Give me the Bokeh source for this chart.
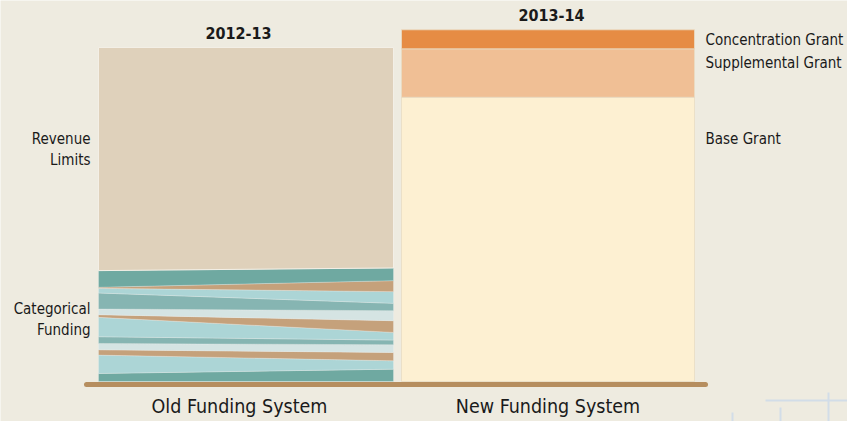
from bokeh.plotting import figure
from bokeh.models import Range1d, ColumnDataSource
from bokeh.core.properties import value
from bokeh.embed import file_html
from bokeh.resources import INLINE

# ---------------- data (arbitrary funding units; 2012-13 total = 100) ----------------
categorical_colors = ["#6fa9a1", "#acd5d6", "#c5a17b", "#d5e4e3", "#86b5b2", "#acd5d6",
                      "#c5a17b", "#d5e4e3", "#86b5b2", "#acd5d6", "#c5a17b", "#6fa9a1"]
# categorical programs, bottom -> top, thickness at left edge and right edge of the 2012-13 bar
categorical_left = [2.4, 5.5, 1.6, 1.9, 2.0, 5.8, 0.8, 1.7, 4.8, 1.4, 0.3, 5.0]
categorical_right = [3.7, 2.5, 2.5, 2.3, 1.4, 2.3, 3.5, 3.0, 2.2, 3.5, 3.3, 3.8]
old_total = 100.0

new_segments = ["Base Grant", "Supplemental Grant", "Concentration Grant"]
new_values = [85.1, 14.5, 5.7]
new_colors = ["#fdf0d2", "#f0bf95", "#e68c44"]

years = ["2012-13", "2013-14"]
systems = ["Old Funding System", "New Funding System"]

# ---------------- layout helpers ----------------
W, H = 847, 421
K = 3.34          # pixels per unit
BASE_PX = 381     # page y of zero line
TXT_SHIFT = 7     # text baseline correction
def X(px):
    return px
def Y(py):
    return (BASE_PX - py) / K
def TY(py):
    return Y(py - TXT_SHIFT)

BG = "#eeebe0"
FONT = value("DejaVu Sans Condensed")

p = figure(width=W, height=H, output_backend="svg", toolbar_location=None,
           min_border=0, x_range=Range1d(0, W),
           y_range=Range1d(Y(H), Y(0)))
p.axis.visible = False
p.grid.visible = False
p.outline_line_color = None
p.background_fill_color = BG
p.border_fill_color = BG

# faint background grid fragment (bottom right)
p.multi_line(xs=[[X(765), X(847)], [X(828), X(828)], [X(780), X(780)], [X(732), X(732)]],
             ys=[[Y(400), Y(400)], [Y(392), Y(421)], [Y(407), Y(421)], [Y(412), Y(421)]],
             line_color="#d2dde8", line_width=2)

# ---------------- old system bar ----------------
L0, L1 = X(98), X(393)
xs, ys = [], []
cl = cr = 0.0
for l, r in zip(categorical_left, categorical_right):
    xs.append([L0, L1, L1, L0])
    ys.append([cl, cr, cr + r, cl + l])
    cl += l
    cr += r
src = ColumnDataSource(dict(xs=xs, ys=ys, color=categorical_colors))
p.patches("xs", "ys", source=src, fill_color="color", line_color="#eef3f0",
          line_alpha=0.5, line_width=0.6)
# revenue limits on top of categorical funding
p.patch([L0, L1, L1, L0], [cl, cr, old_total, old_total],
        fill_color="#dfd1bb", line_color="#f3efe6", line_width=1)

# ---------------- new system bar ----------------
R0, R1 = X(401), X(694)
bottoms, tops = [], []
acc = 0.0
for v in new_values:
    bottoms.append(acc)
    acc += v
    tops.append(acc)
p.quad(left=R0, right=R1, bottom=bottoms, top=tops, fill_color=new_colors,
       line_color="#e9dcc4", line_width=0.8)

# baseline
p.line([X(86), X(705)], [Y(384), Y(384)], line_width=5, line_cap="round",
       line_color="#b68e5f")

# ---------------- texts ----------------
def txt(x, y, s, size, align="left", style="normal"):
    p.text(x=[x], y=[y], text=[s], text_font=FONT, text_font_size=f"{size}px",
           text_align=align, text_baseline="alphabetic", text_font_style=style,
           text_color="#1a1a1a")

txt(X(238), TY(39.5), years[0], 16, "center", "bold")
txt(X(551), TY(21.5), years[1], 16, "center", "bold")

# right labels
txt(X(705), TY(46.5), new_segments[2], 15)
txt(X(705), TY(69), new_segments[1], 15)
txt(X(705), TY(145), new_segments[0], 15)

# left labels
txt(X(90), TY(145), "Revenue", 15, "right")
txt(X(90), TY(166.5), "Limits", 15, "right")
txt(X(90), TY(315), "Categorical", 15, "right")
txt(X(90), TY(336), "Funding", 15, "right")

# bottom labels
txt(X(239), TY(413), systems[0], 19.5, "center")
txt(X(547.5), TY(413), systems[1], 19.5, "center")

open("out.html", "w").write(file_html(p, INLINE))
